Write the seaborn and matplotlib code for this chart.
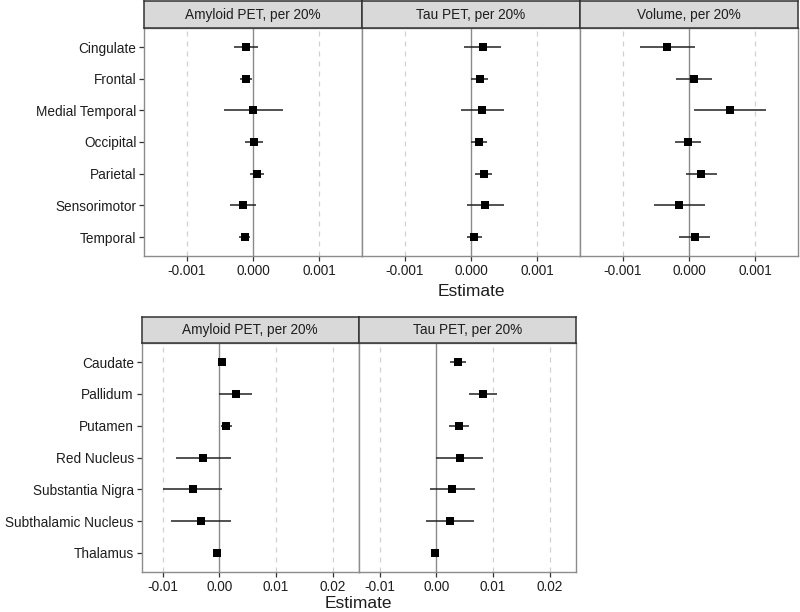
"""
Forest plot of regional estimates (cortical and subcortical) per 20% change.
"""

# === Imports ===

import numpy as np
import pandas as pd
import seaborn as sns
from matplotlib import pyplot as plt


# === Data ===

cortical_regions = ["Cingulate", "Frontal", "Medial Temporal", "Occipital",
                    "Parietal", "Sensorimotor", "Temporal"]

amy_est = [-0.00010, -0.00010, 0.00000, 0.000015, 0.000065, -0.00015, -0.00012]
amy_lo = [-0.00028, -0.00019, -0.00043, -0.00012, -0.00004, -0.00034, -0.00021]
amy_hi = [0.000075, -0.00001, 0.00045, 0.00015, 0.000165, 0.00005, -0.00004]

tau_est = [0.000176, 0.00013, 0.00017, 0.000115, 0.00019, 0.000216, 0.00005]
tau_lo = [-0.00010, 0.0, -0.000155, 0.0, 0.000065, -0.000065, -0.000065]
tau_hi = [0.00045, 0.00026, 0.00050, 0.000236, 0.000316, 0.00050, 0.00016]

vol_est = [-0.000327, 0.000075, 0.000613, -0.00001, 0.00018, -0.000146, 0.000085]
vol_lo = [-0.00074, -0.00020, 0.00007, -0.000206, -0.00005, -0.00053, -0.00015]
vol_hi = [0.000085, 0.000347, 0.001156, 0.000186, 0.00042, 0.00024, 0.00032]

subcortical_regions = ["Caudate", "Pallidum", "Putamen", "Red Nucleus",
                       "Substantia Nigra", "Subthalamic Nucleus", "Thalamus"]

sub_amy_est = [0.0004, 0.00294, 0.00124, -0.00282, -0.0047, -0.0033, -0.00047]
sub_amy_lo = [-0.0001, 0.0, 0.00024, -0.00765, -0.00988, -0.00859, -0.0008]
sub_amy_hi = [0.0009, 0.00582, 0.00218, 0.00206, 0.00053, 0.0020, -0.0002]

sub_tau_est = [0.00375, 0.00821, 0.00393, 0.0041, 0.00282, 0.00246, -0.00018]
sub_tau_lo = [0.00235, 0.00575, 0.00223, 0.0, -0.00117, -0.00176, -0.0006]
sub_tau_hi = [0.00522, 0.01073, 0.00569, 0.00827, 0.00674, 0.00669, 0.0003]

top_titles = ["Amyloid PET, per 20%", "Tau PET, per 20%", "Volume, per 20%"]
bottom_titles = ["Amyloid PET, per 20%", "Tau PET, per 20%"]
top_ticks = [-0.001, 0.000, 0.001]
bottom_ticks = [-0.01, 0.00, 0.01, 0.02]


# === Parameters ===

W, H = 800, 612
text_col = "#1e1e1e"
border_col = "#8c8c8c"
font = ["Liberation Sans", "DejaVu Sans"]


# === Functions ===

def frac(x0, y0, x1, y1):
    """Pixel box (top-left origin) to figure fraction rect."""
    return [x0 / W, 1 - y1 / H, (x1 - x0) / W, (y1 - y0) / H]


def draw_strip(fig, rect, title):
    sax = fig.add_axes(rect)
    sax.set_facecolor("#d9d9d9")
    sax.set_xticks([])
    sax.set_yticks([])
    for sp in sax.spines.values():
        sp.set_visible(True)
        sp.set_color("#333333")
        sp.set_linewidth(1.1)
    sax.text(0.5, 0.5, title, ha="center", va="center", fontsize=9.8,
             color=text_col, transform=sax.transAxes)


def draw_panel(fig, rect, regions, est, lo, hi, xlim, ticks, fmt, show_y):
    ax = fig.add_axes(rect)
    pos = np.arange(len(regions))
    df = pd.DataFrame({"pos": pos, "est": est, "lo": lo, "hi": hi})
    for t in ticks:
        if t != 0:
            ax.axvline(t, color="#d0d0d0", lw=0.9, ls=(0, (4, 4)), zorder=0)
    ax.axvline(0, color="#8a8a8a", lw=1.0, zorder=1)
    ax.hlines(df["pos"], df["lo"], df["hi"], color="#222222", lw=1.1, zorder=2)
    sns.scatterplot(data=df, x="est", y="pos", marker="s", color="black",
                    s=26, linewidth=0, ax=ax, zorder=3, legend=False)
    ax.set_xlim(*xlim)
    ax.set_ylim(len(regions) - 0.4, -0.6)
    ax.set_xticks(ticks)
    ax.set_xticklabels([fmt % t for t in ticks])
    ax.set_xlabel("")
    ax.set_ylabel("")
    ax.set_yticks(pos)
    if show_y:
        ax.set_yticklabels(regions)
        ax.tick_params(axis="y", length=3.5, width=0.9, color="#333333",
                       labelsize=9.8, labelcolor=text_col, pad=2, left=True)
    else:
        ax.tick_params(axis="y", left=False, labelleft=False)
    ax.tick_params(axis="x", length=3.5, width=0.9, color="#333333",
                   labelsize=9.8, labelcolor=text_col, pad=2, bottom=True)
    for sp in ax.spines.values():
        sp.set_visible(True)
        sp.set_color(border_col)
        sp.set_linewidth(1.0)
    ax.set_facecolor("white")
    return ax


def make_plot():
    sns.set_theme(style="white")
    plt.rcParams["font.family"] = font
    plt.rcParams["axes.unicode_minus"] = False

    fig = plt.figure(figsize=(W / 100, H / 100), dpi=100)
    fig.patch.set_facecolor("white")

    # top row: cortical regions
    top_data = [(amy_est, amy_lo, amy_hi), (tau_est, tau_lo, tau_hi),
                (vol_est, vol_lo, vol_hi)]
    lefts = [144, 362, 580]
    for i, (est, lo, hi) in enumerate(top_data):
        x0, x1 = lefts[i], lefts[i] + 218
        draw_panel(fig, frac(x0, 28, x1, 256), cortical_regions, est, lo, hi,
                   (-0.00164, 0.00164), top_ticks, "%.3f", i == 0)
        draw_strip(fig, frac(x0, 1, x1, 28), top_titles[i])
    fig.text(471 / W, 1 - 291 / H, "Estimate", ha="center", va="center",
             fontsize=12.5, color=text_col)

    # bottom row: subcortical regions
    bottom_data = [(sub_amy_est, sub_amy_lo, sub_amy_hi),
                   (sub_tau_est, sub_tau_lo, sub_tau_hi)]
    lefts = [141.5, 358.5]
    for i, (est, lo, hi) in enumerate(bottom_data):
        x0, x1 = lefts[i], lefts[i] + 217.5
        draw_panel(fig, frac(x0, 343, x1, 572), subcortical_regions, est, lo, hi,
                   (-0.0137, 0.0246), bottom_ticks, "%.2f", i == 0)
        draw_strip(fig, frac(x0, 317, x1, 343), bottom_titles[i])
    fig.text(358.5 / W, 1 - 604 / H, "Estimate", ha="center", va="center",
             fontsize=12.5, color=text_col)

    fig.savefig("out.png", dpi=100, facecolor="white")


# === Main ===

def main():
    make_plot()

main()
